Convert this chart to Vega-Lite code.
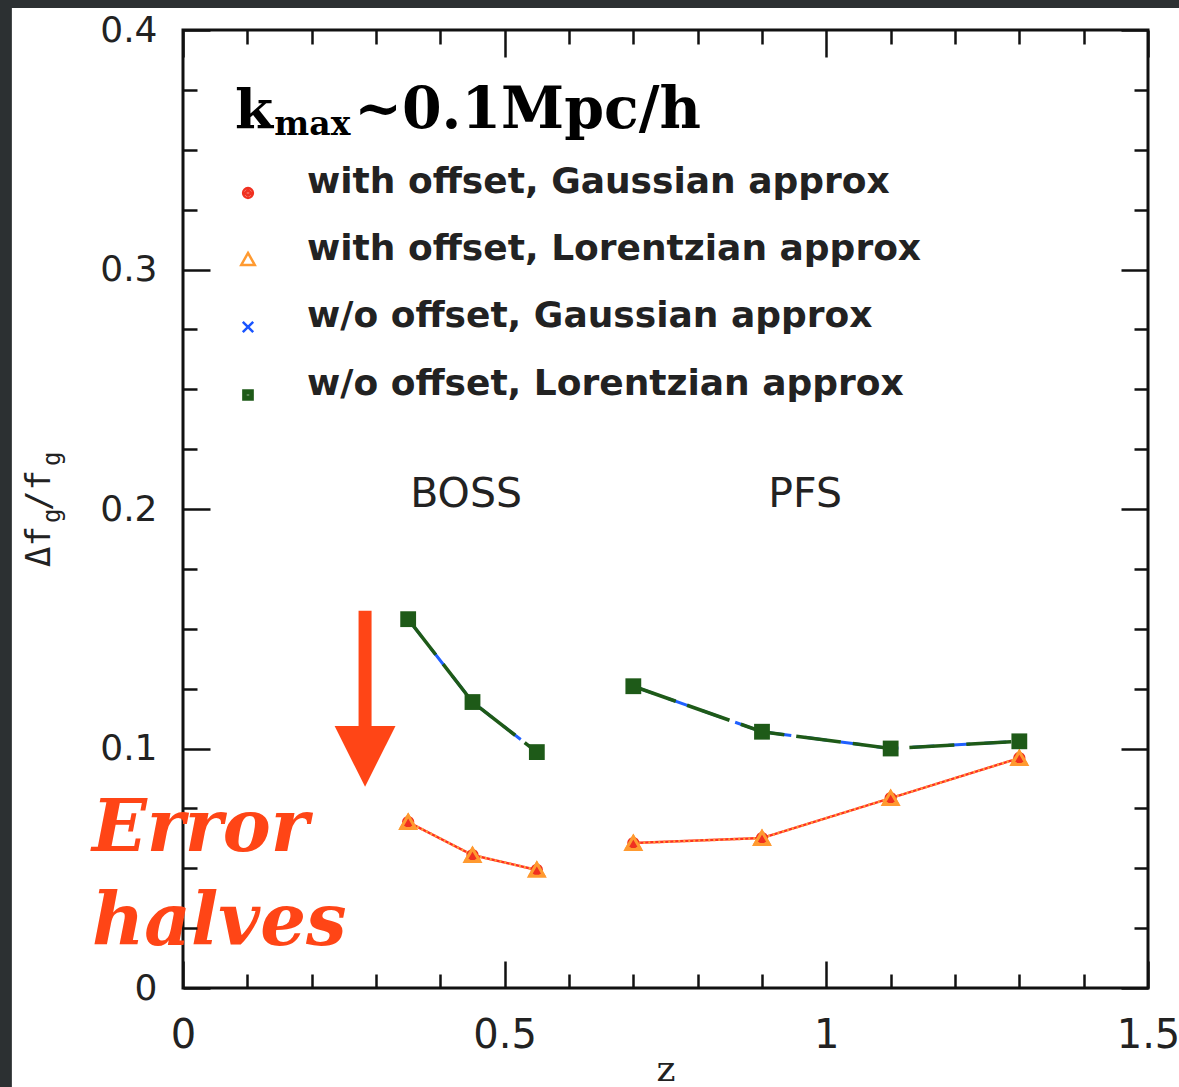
{
  "$schema": "https://vega.github.io/schema/vega-lite/v6.json",
  "width": 965,
  "height": 958,
  "autosize": {"type": "none"},
  "padding": {"left": 183, "top": 30, "right": 31, "bottom": 99},
  "background": "#2c3032",
  "config": {
    "view": {"stroke": null},
    "axis": {"domain": false, "grid": false, "tickColor": "#111", "tickWidth": 2.5, "labelColor": "#222", "labelFont": "DejaVu Sans", "labelOverlap": false, "labelBound": false, "labelFlush": false}
  },
  "datasets": {
    "pts": [
      {"s": "with offset, Gaussian approx", "survey": "BOSS", "z": 0.35, "v": 0.0693},
      {"s": "with offset, Gaussian approx", "survey": "BOSS", "z": 0.45, "v": 0.0555},
      {"s": "with offset, Gaussian approx", "survey": "BOSS", "z": 0.55, "v": 0.0493},
      {"s": "with offset, Gaussian approx", "survey": "PFS", "z": 0.7, "v": 0.0605},
      {"s": "with offset, Gaussian approx", "survey": "PFS", "z": 0.9, "v": 0.0626},
      {"s": "with offset, Gaussian approx", "survey": "PFS", "z": 1.1, "v": 0.0793},
      {"s": "with offset, Gaussian approx", "survey": "PFS", "z": 1.3, "v": 0.096},
      {"s": "with offset, Lorentzian approx", "survey": "BOSS", "z": 0.35, "v": 0.0693},
      {"s": "with offset, Lorentzian approx", "survey": "BOSS", "z": 0.45, "v": 0.0555},
      {"s": "with offset, Lorentzian approx", "survey": "BOSS", "z": 0.55, "v": 0.0493},
      {"s": "with offset, Lorentzian approx", "survey": "PFS", "z": 0.7, "v": 0.0605},
      {"s": "with offset, Lorentzian approx", "survey": "PFS", "z": 0.9, "v": 0.0626},
      {"s": "with offset, Lorentzian approx", "survey": "PFS", "z": 1.1, "v": 0.0793},
      {"s": "with offset, Lorentzian approx", "survey": "PFS", "z": 1.3, "v": 0.096},
      {"s": "w/o offset, Gaussian approx", "survey": "BOSS", "z": 0.35, "v": 0.154},
      {"s": "w/o offset, Gaussian approx", "survey": "BOSS", "z": 0.45, "v": 0.1194},
      {"s": "w/o offset, Gaussian approx", "survey": "BOSS", "z": 0.55, "v": 0.0985},
      {"s": "w/o offset, Gaussian approx", "survey": "PFS", "z": 0.7, "v": 0.126},
      {"s": "w/o offset, Gaussian approx", "survey": "PFS", "z": 0.9, "v": 0.107},
      {"s": "w/o offset, Gaussian approx", "survey": "PFS", "z": 1.1, "v": 0.1},
      {"s": "w/o offset, Gaussian approx", "survey": "PFS", "z": 1.3, "v": 0.103},
      {"s": "w/o offset, Lorentzian approx", "survey": "BOSS", "z": 0.35, "v": 0.154},
      {"s": "w/o offset, Lorentzian approx", "survey": "BOSS", "z": 0.45, "v": 0.1194},
      {"s": "w/o offset, Lorentzian approx", "survey": "BOSS", "z": 0.55, "v": 0.0985},
      {"s": "w/o offset, Lorentzian approx", "survey": "PFS", "z": 0.7, "v": 0.126},
      {"s": "w/o offset, Lorentzian approx", "survey": "PFS", "z": 0.9, "v": 0.107},
      {"s": "w/o offset, Lorentzian approx", "survey": "PFS", "z": 1.1, "v": 0.1},
      {"s": "w/o offset, Lorentzian approx", "survey": "PFS", "z": 1.3, "v": 0.103}
    ]
  },
  "resolve": {"axis": {"x": "independent", "y": "independent"}},
  "layer": [
    {
      "data": {"values": [{}]},
      "mark": {"type": "rect", "fill": "white", "stroke": null, "clip": false},
      "encoding": {
        "x": {"datum": -0.266, "type": "quantitative", "scale": {"domain": [0, 1.5], "nice": false, "zero": false}, "axis": null},
        "x2": {"datum": 1.6},
        "y": {"datum": -0.06, "type": "quantitative", "scale": {"domain": [0, 0.4], "nice": false, "zero": false}, "axis": null},
        "y2": {"datum": 0.4092}
      }
    },
    {
      "data": {"values": [{}]},
      "mark": {"type": "rect", "filled": false, "stroke": "#111", "strokeWidth": 3, "clip": false},
      "encoding": {
        "x": {"datum": 0, "type": "quantitative", "axis": null},
        "x2": {"datum": 1.5},
        "y": {"datum": 0, "type": "quantitative", "axis": null},
        "y2": {"datum": 0.4}
      }
    },
    {
      "data": {"name": "pts"},
      "transform": [{"filter": "datum.s === 'with offset, Gaussian approx'"}],
      "mark": {"type": "line", "color": "#ff3020", "strokeWidth": 2.5},
      "encoding": {
        "x": {"field": "z", "type": "quantitative",
          "axis": {"orient": "bottom", "zindex": 1, "values": [0, 0.1, 0.2, 0.3, 0.4, 0.5, 0.6, 0.7, 0.8, 0.9, 1, 1.1, 1.2, 1.3, 1.4, 1.5],
            "tickSize": {"condition": {"test": "indexof([0, 0.5, 1, 1.5], datum.value) >= 0", "value": -27}, "value": -14},
            "labelExpr": "indexof([0, 0.5, 1, 1.5], datum.value) >= 0 ? format(datum.value, '~g') : ''",
            "labelFontSize": 40, "labelPadding": 54, "title": "z", "titleFont": "DejaVu Serif", "titleFontSize": 36, "titleFontWeight": "normal", "titleColor": "#222", "titleY": 92, "titleBaseline": "alphabetic"}},
        "y": {"field": "v", "type": "quantitative",
          "axis": {"orient": "left", "zindex": 1, "values": [0, 0.025, 0.05, 0.075, 0.1, 0.125, 0.15, 0.175, 0.2, 0.225, 0.25, 0.275, 0.3, 0.325, 0.35, 0.375, 0.4],
            "tickSize": {"condition": {"test": "indexof([0, 0.1, 0.2, 0.3, 0.4], datum.value) >= 0", "value": -27}, "value": -14},
            "labelExpr": "indexof([0, 0.1, 0.2, 0.3, 0.4], datum.value) >= 0 ? format(datum.value, '~g') : ''",
            "labelFontSize": 36, "labelPadding": 53, "title": null}},
        "detail": {"field": "survey"}
      }
    },
    {
      "data": {"name": "pts"},
      "transform": [{"filter": "datum.s === 'with offset, Lorentzian approx'"}],
      "mark": {"type": "line", "color": "#ffa040", "strokeWidth": 2.5, "strokeDash": [2, 3]},
      "encoding": {
        "x": {"field": "z", "type": "quantitative",
          "axis": {"orient": "top", "zindex": 1, "values": [0, 0.1, 0.2, 0.3, 0.4, 0.5, 0.6, 0.7, 0.8, 0.9, 1, 1.1, 1.2, 1.3, 1.4, 1.5],
            "tickSize": {"condition": {"test": "indexof([0, 0.5, 1, 1.5], datum.value) >= 0", "value": -27}, "value": -14},
            "labels": false, "title": null}},
        "y": {"field": "v", "type": "quantitative",
          "axis": {"orient": "right", "zindex": 1, "values": [0, 0.025, 0.05, 0.075, 0.1, 0.125, 0.15, 0.175, 0.2, 0.225, 0.25, 0.275, 0.3, 0.325, 0.35, 0.375, 0.4],
            "tickSize": {"condition": {"test": "indexof([0, 0.1, 0.2, 0.3, 0.4], datum.value) >= 0", "value": -27}, "value": -14},
            "labels": false, "title": null}},
        "detail": {"field": "survey"}
      }
    },
    {
      "data": {"name": "pts"},
      "transform": [{"filter": "datum.s === 'w/o offset, Gaussian approx'"}],
      "mark": {"type": "line", "color": "#2060ff", "strokeWidth": 3, "strokeDash": [22, 14]},
      "encoding": {
        "x": {"field": "z", "type": "quantitative", "axis": null},
        "y": {"field": "v", "type": "quantitative", "axis": null},
        "detail": {"field": "survey"}
      }
    },
    {
      "data": {"name": "pts"},
      "transform": [{"filter": "datum.s === 'w/o offset, Lorentzian approx'"}],
      "mark": {"type": "line", "color": "#1e5a18", "strokeWidth": 3.5, "strokeDash": [45, 12]},
      "encoding": {
        "x": {"field": "z", "type": "quantitative", "axis": null},
        "y": {"field": "v", "type": "quantitative", "axis": null},
        "detail": {"field": "survey"}
      }
    },
    {
      "data": {"name": "pts"},
      "mark": {"type": "point", "filled": false, "size": 150, "strokeWidth": 2.5, "opacity": 1},
      "encoding": {
        "x": {"field": "z", "type": "quantitative", "axis": null},
        "y": {"field": "v", "type": "quantitative", "axis": null},
        "color": {"field": "s", "type": "nominal",
          "scale": {"domain": ["with offset, Gaussian approx", "with offset, Lorentzian approx", "w/o offset, Gaussian approx", "w/o offset, Lorentzian approx"], "range": ["#f03020", "#ff9a30", "#1a55ff", "#1e5a18"]},
          "legend": {"orient": "none", "legendX": 47, "legendY": 145, "title": null, "padding": 0,
            "labelFont": "DejaVu Sans", "labelFontWeight": "bold", "labelFontSize": 36, "labelColor": "#222", "labelLimit": 1000, "labelOffset": 41, "labelBaseline": "alphabetic",
            "rowPadding": 28, "symbolSize": 150, "symbolStrokeWidth": 2.5}},
        "shape": {"field": "s", "type": "nominal",
          "scale": {"domain": ["with offset, Gaussian approx", "with offset, Lorentzian approx", "w/o offset, Gaussian approx", "w/o offset, Lorentzian approx"],
            "range": ["M-0.8,0A0.8,0.8,0,1,1,0.8,0A0.8,0.8,0,1,1,-0.8,0ZM-0.4,0A0.4,0.4,0,1,1,0.4,0A0.4,0.4,0,1,1,-0.4,0ZM-0.12,0L0.12,0", "M0,-1.15L1.1,0.8L-1.1,0.8Z", "M-0.85,-0.85L0.85,0.85M-0.85,0.85L0.85,-0.85", "M-0.75,-0.75H0.75V0.75H-0.75ZM-0.38,-0.38H0.38V0.38H-0.38ZM-0.12,0H0.12"]}}
      }
    },
    {
      "data": {"name": "pts"},
      "transform": [{"filter": "datum.s === 'with offset, Gaussian approx'"}],
      "mark": {"type": "point", "shape": "circle", "filled": true, "size": 110, "color": "#f03020", "opacity": 1},
      "encoding": {"x": {"field": "z", "type": "quantitative", "axis": null}, "y": {"field": "v", "type": "quantitative", "axis": null}}
    },
    {
      "data": {"name": "pts"},
      "transform": [{"filter": "datum.s === 'with offset, Lorentzian approx'"}],
      "mark": {"type": "point", "shape": "triangle-up", "filled": false, "size": 220, "strokeWidth": 3, "color": "#ff9a30", "opacity": 1},
      "encoding": {"x": {"field": "z", "type": "quantitative", "axis": null}, "y": {"field": "v", "type": "quantitative", "axis": null}}
    },
    {
      "data": {"name": "pts"},
      "transform": [{"filter": "datum.s === 'w/o offset, Gaussian approx'"}],
      "mark": {"type": "point", "shape": "M-1,-1L1,1M-1,1L1,-1", "filled": false, "size": 150, "strokeWidth": 2.5, "color": "#1a55ff", "opacity": 1},
      "encoding": {"x": {"field": "z", "type": "quantitative", "axis": null}, "y": {"field": "v", "type": "quantitative", "axis": null}}
    },
    {
      "data": {"name": "pts"},
      "transform": [{"filter": "datum.s === 'w/o offset, Lorentzian approx'"}],
      "mark": {"type": "point", "shape": "square", "filled": true, "size": 250, "color": "#1e5a18", "opacity": 1},
      "encoding": {"x": {"field": "z", "type": "quantitative", "axis": null}, "y": {"field": "v", "type": "quantitative", "axis": null}}
    },
    {
      "data": {"values": [{}]},
      "mark": {"type": "text", "text": "k", "font": "DejaVu Serif", "fontWeight": "bold", "fontSize": 55, "align": "left", "baseline": "alphabetic", "color": "#000"},
      "encoding": {"x": {"datum": 0.081, "type": "quantitative", "axis": null}, "y": {"datum": 0.359, "type": "quantitative", "axis": null}}
    },
    {
      "data": {"values": [{}]},
      "mark": {"type": "text", "text": "max", "font": "DejaVu Serif", "fontWeight": "bold", "fontSize": 33, "align": "left", "baseline": "alphabetic", "color": "#000"},
      "encoding": {"x": {"datum": 0.142, "type": "quantitative", "axis": null}, "y": {"datum": 0.356, "type": "quantitative", "axis": null}}
    },
    {
      "data": {"values": [{}]},
      "mark": {"type": "text", "text": "~0.1Mpc/h", "font": "DejaVu Serif", "fontWeight": "bold", "fontSize": 57, "align": "left", "baseline": "alphabetic", "color": "#000"},
      "encoding": {"x": {"datum": 0.266, "type": "quantitative", "axis": null}, "y": {"datum": 0.359, "type": "quantitative", "axis": null}}
    },
    {
      "data": {"values": [{}]},
      "mark": {"type": "text", "text": "BOSS", "font": "DejaVu Sans", "fontSize": 41, "align": "center", "baseline": "middle", "color": "#222"},
      "encoding": {"x": {"datum": 0.44, "type": "quantitative", "axis": null}, "y": {"datum": 0.206, "type": "quantitative", "axis": null}}
    },
    {
      "data": {"values": [{}]},
      "mark": {"type": "text", "text": "PFS", "font": "DejaVu Sans", "fontSize": 41, "align": "center", "baseline": "middle", "color": "#222"},
      "encoding": {"x": {"datum": 0.967, "type": "quantitative", "axis": null}, "y": {"datum": 0.206, "type": "quantitative", "axis": null}}
    },
    {
      "data": {"values": [{}]},
      "mark": {"type": "text", "text": "Error", "font": "DejaVu Serif", "fontWeight": "bold", "fontStyle": "italic", "fontSize": 72, "align": "left", "baseline": "alphabetic", "color": "#ff4516"},
      "encoding": {"x": {"datum": -0.1415, "type": "quantitative", "axis": null}, "y": {"datum": 0.0572, "type": "quantitative", "axis": null}}
    },
    {
      "data": {"values": [{}]},
      "mark": {"type": "text", "text": "halves", "font": "DejaVu Serif", "fontWeight": "bold", "fontStyle": "italic", "fontSize": 72, "align": "left", "baseline": "alphabetic", "color": "#ff4516"},
      "encoding": {"x": {"datum": -0.1415, "type": "quantitative", "axis": null}, "y": {"datum": 0.018, "type": "quantitative", "axis": null}}
    },
    {
      "data": {"values": [{}]},
      "mark": {"type": "rule", "color": "#ff4516", "strokeWidth": 13},
      "encoding": {"x": {"datum": 0.283, "type": "quantitative", "axis": null}, "y": {"datum": 0.1575, "type": "quantitative", "axis": null}, "y2": {"datum": 0.108}}
    },
    {
      "data": {"values": [{}]},
      "mark": {"type": "point", "shape": "M-1,-1L1,-1L0,1Z", "filled": true, "color": "#ff4516", "size": 3700, "opacity": 1},
      "encoding": {"x": {"datum": 0.283, "type": "quantitative", "axis": null}, "y": {"datum": 0.0967, "type": "quantitative", "axis": null}}
    },
    {
      "data": {"values": [{}]},
      "mark": {"type": "text", "text": "Δf", "font": "DejaVu Sans Mono", "fontSize": 34, "angle": 270, "align": "left", "baseline": "alphabetic", "color": "#222"},
      "encoding": {"x": {"datum": -0.2067, "type": "quantitative", "axis": null}, "y": {"datum": 0.1758, "type": "quantitative", "axis": null}}
    },
    {
      "data": {"values": [{}]},
      "mark": {"type": "text", "text": "g", "font": "DejaVu Sans Mono", "fontSize": 24, "angle": 270, "align": "left", "baseline": "alphabetic", "color": "#222"},
      "encoding": {"x": {"datum": -0.1912, "type": "quantitative", "axis": null}, "y": {"datum": 0.1942, "type": "quantitative", "axis": null}}
    },
    {
      "data": {"values": [{}]},
      "mark": {"type": "text", "text": "/f", "font": "DejaVu Sans Mono", "fontSize": 34, "angle": 270, "align": "left", "baseline": "alphabetic", "color": "#222"},
      "encoding": {"x": {"datum": -0.2067, "type": "quantitative", "axis": null}, "y": {"datum": 0.1992, "type": "quantitative", "axis": null}}
    },
    {
      "data": {"values": [{}]},
      "mark": {"type": "text", "text": "g", "font": "DejaVu Sans Mono", "fontSize": 24, "angle": 270, "align": "left", "baseline": "alphabetic", "color": "#222"},
      "encoding": {"x": {"datum": -0.1912, "type": "quantitative", "axis": null}, "y": {"datum": 0.218, "type": "quantitative", "axis": null}}
    }
  ]
}
